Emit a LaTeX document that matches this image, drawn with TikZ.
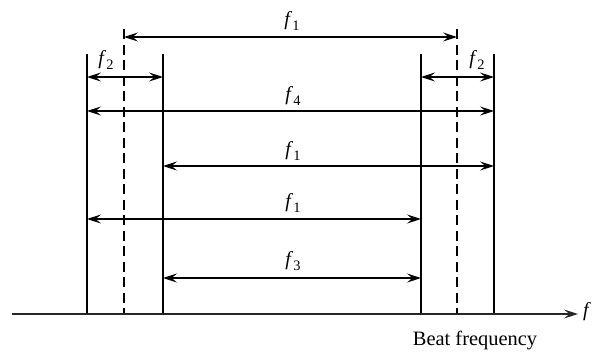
\documentclass[tikz,border=0pt]{standalone}
\usepackage{fontspec}
\setmainfont{Liberation Serif}
\usetikzlibrary{arrows.meta}
\newcommand{\fsub}[1]{\textit{f}\kern0.3bp\raisebox{-0.28em}{\fontsize{14.5}{14.5}\selectfont #1}}
\tikzset{
  solidline/.style={line width=1.6bp},
  dashline/.style={line width=1.6bp, dash pattern=on 10bp off 5.5bp},
  dim/.style={line width=1.1bp, {Stealth[length=14bp,width=9bp,inset=5.5bp]}-{Stealth[length=14bp,width=9bp,inset=5.5bp]}},
  lab/.style={font=\fontsize{20}{20}\selectfont, inner sep=0pt},
  axisline/.style={line width=1.4bp, draw=black!85, -{Stealth[length=14bp,width=9bp,inset=5.5bp]}}
}
\begin{document}
\begin{tikzpicture}[x=1bp,y=-1bp]
\useasboundingbox (0,0) rectangle (605,353);
% vertical lines
\coordinate (A) at (87,314);  \coordinate (At) at (87,54);
\coordinate (B) at (124,314); \coordinate (Bt) at (124,29);
\coordinate (C) at (163,314); \coordinate (Ct) at (163,54);
\coordinate (D) at (421,314); \coordinate (Dt) at (421,54);
\coordinate (E) at (457,314); \coordinate (Et) at (457,29);
\coordinate (F) at (494,314); \coordinate (Ft) at (494,54);
\draw[solidline] (A) -- (At);
\draw[dashline] (Bt) -- (B);
\draw[solidline] (C) -- (Ct);
\draw[solidline] (D) -- (Dt);
\draw[dashline] (Et) -- (E);
\draw[solidline] (F) -- (Ft);
% axis
\coordinate (ax0) at (12,314);
\coordinate (ax1) at (578,314);
\draw[axisline] (ax0) -- (ax1);
\node[lab, anchor=west] (fax) at (583,312) {\textit{f}};
\node[lab, font=\fontsize{20.5}{20.5}\selectfont] (beat) at (475,341) {Beat frequency};
% dimension arrows
\coordinate (f1a) at (124,37); \coordinate (f1b) at (457,37);
\draw[dim] (f1a) -- (f1b);
\node[lab] (l1) at (292,21) {\fsub{1}};
\coordinate (f2a) at (87,77); \coordinate (f2b) at (163,77);
\draw[dim] (f2a) -- (f2b);
\node[lab] (l2) at (106,60) {\fsub{2}};
\coordinate (f2c) at (421,77); \coordinate (f2d) at (494,77);
\draw[dim] (f2c) -- (f2d);
\node[lab] (l3) at (477,60) {\fsub{2}};
\coordinate (f4a) at (87,111); \coordinate (f4b) at (494,111);
\draw[dim] (f4a) -- (f4b);
\node[lab] (l4) at (293,96) {\fsub{4}};
\coordinate (f5a) at (163,166); \coordinate (f5b) at (494,166);
\draw[dim] (f5a) -- (f5b);
\node[lab] (l5) at (293,151) {\fsub{1}};
\coordinate (f6a) at (87,219); \coordinate (f6b) at (421,219);
\draw[dim] (f6a) -- (f6b);
\node[lab] (l6) at (293,203) {\fsub{1}};
\coordinate (f7a) at (163,278); \coordinate (f7b) at (421,278);
\draw[dim] (f7a) -- (f7b);
\node[lab] (l7) at (293,261) {\fsub{3}};
\end{tikzpicture}
\end{document}
